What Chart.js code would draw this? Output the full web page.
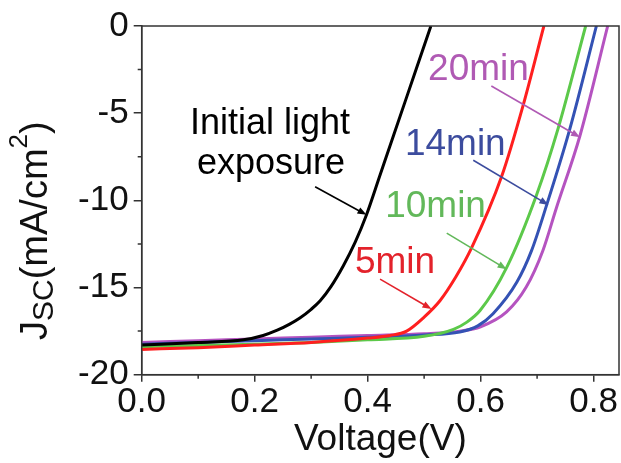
<!DOCTYPE html>
<html>
<head>
<meta charset="utf-8">
<script src="https://cdn.jsdelivr.net/npm/chart.js@4.4.1/dist/chart.umd.min.js"></script>
<style>
  body { margin: 0; background: #fff; }
</style>
</head>
<body>
<canvas id="jv" width="621" height="463"></canvas>
<script>
// J-V curves after different light soaking times (V, mA/cm2)
const vInit = [0, 0.1, 0.18, 0.215, 0.24, 0.262, 0.28, 0.30, 0.316, 0.335, 0.357, 0.378, 0.398, 0.422, 0.446, 0.468, 0.512];
const jInit = [-18.3, -18.15, -18.0, -17.75, -17.45, -17.1, -16.75, -16.25, -15.76, -14.95, -13.75, -12.4, -10.83, -8.55, -6.27, -4.18, 0];

const v5 = [0, 0.1, 0.2, 0.3, 0.4, 0.44, 0.469, 0.50, 0.528, 0.556, 0.584, 0.637, 0.675, 0.712];
const j5 = [-18.55, -18.45, -18.3, -18.15, -17.9, -17.75, -17.5, -16.7, -15.76, -14.4, -12.73, -8.65, -4.58, 0];

const v10 = [0, 0.1, 0.2, 0.3, 0.4, 0.5, 0.552, 0.575, 0.599, 0.646, 0.699, 0.737, 0.786];
const j10 = [-18.4, -18.32, -18.25, -18.15, -18.0, -17.8, -17.4, -17.0, -16.32, -13.86, -9.69, -5.9, 0];

const v14 = [0, 0.1, 0.2, 0.3, 0.4, 0.5, 0.563, 0.595, 0.622, 0.664, 0.69, 0.717, 0.758, 0.805];
const j14 = [-18.25, -18.15, -18.05, -17.95, -17.85, -17.72, -17.55, -17.2, -16.5, -14.7, -12.9, -10.26, -5.9, 0];

const v20 = [0, 0.1, 0.2, 0.3, 0.4, 0.5, 0.563, 0.60, 0.646, 0.681, 0.71, 0.734, 0.776, 0.825];
const j20 = [-18.15, -18.05, -17.95, -17.85, -17.75, -17.65, -17.5, -17.25, -16.4, -14.96, -12.9, -10.45, -6.28, 0];

const xMajor = [0, 0.2, 0.4, 0.6, 0.8];
const xMinor = [0.1, 0.3, 0.5, 0.7];
const yMajor = [-20, -15, -10, -5, 0];
const yMinor = [-17.5, -12.5, -7.5, -2.5];

// labels + arrows, placed in data units
const notes = [
  { text: 'Initial light', v: 0.227, j: -6.21, color: '#000', align: 'center', size: 36 },
  { text: 'exposure', v: 0.229, j: -8.48, color: '#000', align: 'center', size: 36 },
  { text: '20min', v: 0.507, j: -3.07, color: '#b05ab4', align: 'left', size: 37 },
  { text: '14min', v: 0.466, j: -7.42, color: '#3c4c9e', align: 'left', size: 37 },
  { text: '10min', v: 0.431, j: -10.93, color: '#62b85a', align: 'left', size: 37 },
  { text: '5min', v: 0.3775, j: -14.15, color: '#e3222b', align: 'left', size: 37 }
];
const arrows = [
  { from: [0.307, -9.22], to: [0.398, -10.83], color: '#000' },
  { from: [0.619, -3.44], to: [0.776, -6.38], color: '#b05ab4' },
  { from: [0.587, -7.70], to: [0.720, -10.26], color: '#3c4c9e' },
  { from: [0.540, -11.88], to: [0.646, -13.95], color: '#62b85a' },
  { from: [0.422, -14.52], to: [0.513, -16.23], color: '#e3222b' }
];

const FONT = '"Liberation Sans", Arial, sans-serif';

function pts(v, j) {
  return v.map((x, i) => ({ x: x, y: j[i] }));
}

function curve(v, j, color) {
  return {
    data: pts(v, j),
    borderColor: color,
    borderWidth: 3,
    pointRadius: 0,
    cubicInterpolationMode: 'monotone',
    fill: false
  };
}

const extras = {
  id: 'extras',
  afterDraw(chart) {
    const ctx = chart.ctx;
    const xs = chart.scales.x, ys = chart.scales.y;
    const a = chart.chartArea;
    ctx.save();

    // frame
    ctx.strokeStyle = '#333';
    ctx.lineWidth = 1.5;
    ctx.strokeRect(a.left, a.top, a.right - a.left, a.bottom - a.top);

    // minor ticks
    ctx.beginPath();
    xMinor.forEach(v => {
      const px = xs.getPixelForValue(v);
      ctx.moveTo(px, a.bottom);
      ctx.lineTo(px, a.bottom + 4);
    });
    yMinor.forEach(v => {
      const py = ys.getPixelForValue(v);
      ctx.moveTo(a.left, py);
      ctx.lineTo(a.left - 4, py);
    });
    ctx.stroke();

    // annotation text
    ctx.textBaseline = 'alphabetic';
    notes.forEach(n => {
      ctx.font = n.size + 'px ' + FONT;
      ctx.fillStyle = n.color;
      ctx.textAlign = n.align;
      ctx.fillText(n.text, xs.getPixelForValue(n.v), ys.getPixelForValue(n.j));
    });

    // arrows
    arrows.forEach(ar => {
      const x0 = xs.getPixelForValue(ar.from[0]), y0 = ys.getPixelForValue(ar.from[1]);
      const x1 = xs.getPixelForValue(ar.to[0]), y1 = ys.getPixelForValue(ar.to[1]);
      const ang = Math.atan2(y1 - y0, x1 - x0);
      const c = Math.cos(ang), s = Math.sin(ang);
      ctx.strokeStyle = ar.color;
      ctx.fillStyle = ar.color;
      ctx.lineWidth = 1.6;
      ctx.beginPath();
      ctx.moveTo(x0, y0);
      ctx.lineTo(x1 - 6 * c, y1 - 6 * s);
      ctx.stroke();
      ctx.beginPath();
      ctx.moveTo(x1, y1);
      ctx.lineTo(x1 - 9 * c + 3.5 * s, y1 - 9 * s - 3.5 * c);
      ctx.lineTo(x1 - 9 * c - 3.5 * s, y1 - 9 * s + 3.5 * c);
      ctx.closePath();
      ctx.fill();
    });

    // y title with sub/superscript
    ctx.translate(47, 340);
    ctx.rotate(-Math.PI / 2);
    ctx.fillStyle = '#111';
    ctx.textAlign = 'left';
    let x = 0;
    const part = (t, size, dy) => {
      ctx.font = size + 'px ' + FONT;
      ctx.fillText(t, x, dy);
      x += ctx.measureText(t).width;
    };
    part('J', 38, 0);
    part('SC', 30, 6);
    part('(mA/cm', 38, 0);
    part('2', 26, -20);
    part(')', 38, 0);
    ctx.restore();
  }
};

new Chart(document.getElementById('jv'), {
  type: 'line',
  data: {
    datasets: [
      curve(vInit, jInit, '#000000'),
      curve(v5, j5, '#ff1f1f'),
      curve(v10, j10, '#5cc94a'),
      curve(v14, j14, '#3452b4'),
      curve(v20, j20, '#b553c0')
    ]
  },
  options: {
    responsive: false,
    animation: false,
    layout: { padding: { top: 22.7, right: 2, left: 0, bottom: 0 } },
    plugins: { legend: { display: false }, tooltip: { enabled: false } },
    scales: {
      x: {
        type: 'linear',
        min: 0,
        max: 0.845,
        afterFit: s => { s.height = 88.3; },
        afterBuildTicks: s => { s.ticks = xMajor.map(v => ({ value: v })); },
        ticks: {
          callback: v => v.toFixed(1),
          font: { family: FONT, size: 35 },
          color: '#111',
          padding: 0,
          maxRotation: 0
        },
        grid: { drawOnChartArea: false, color: '#333', lineWidth: 1.5, tickLength: 7 },
        border: { color: '#333', width: 1.5 },
        title: {
          display: true,
          text: 'Voltage(V)',
          font: { family: FONT, size: 37 },
          color: '#111',
          padding: { top: 0, bottom: 1 }
        }
      },
      y: {
        min: -20,
        max: 0,
        afterFit: s => { s.width = 141.7; },
        afterBuildTicks: s => { s.ticks = yMajor.map(v => ({ value: v })); },
        ticks: {
          font: { family: FONT, size: 35 },
          color: '#111',
          padding: 5
        },
        grid: { drawOnChartArea: false, color: '#333', lineWidth: 1.5, tickLength: 8 },
        border: { color: '#333', width: 1.5 }
      }
    }
  },
  plugins: [extras]
});
</script>
</body>
</html>
